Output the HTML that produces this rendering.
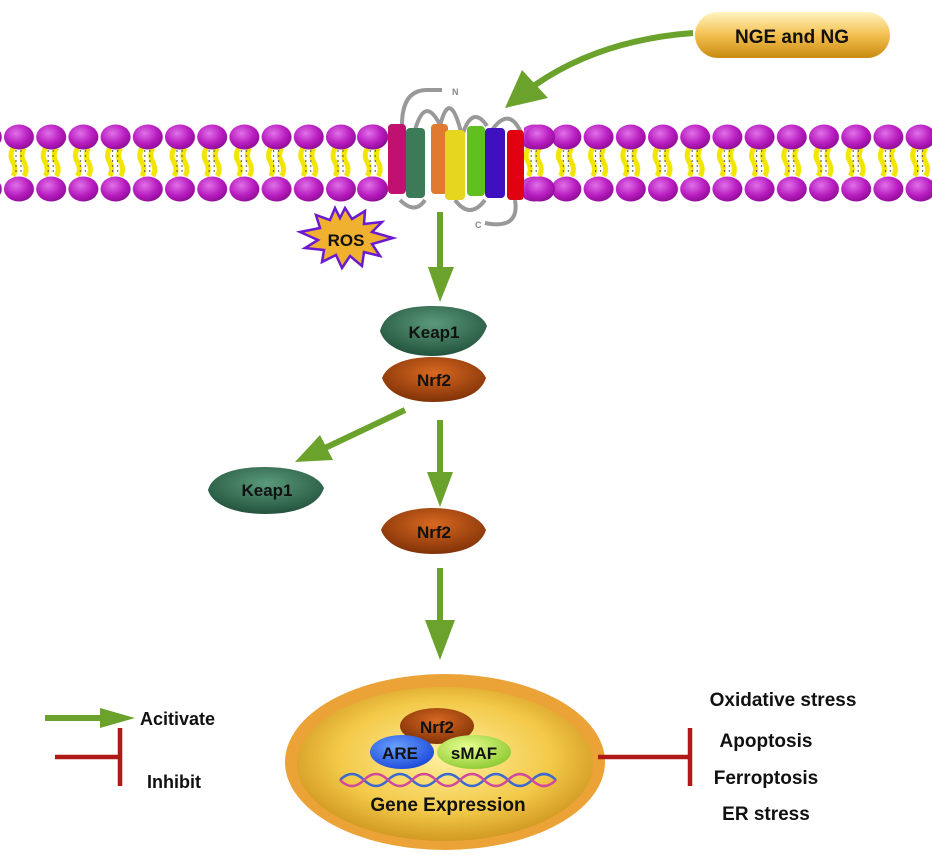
<!DOCTYPE html>
<html><head><meta charset="utf-8"><style>
html,body{margin:0;padding:0;background:#fff}
svg{display:block}
text{font-family:"Liberation Sans",Arial,sans-serif;font-weight:bold}
</style></head><body>
<svg width="932" height="855" viewBox="0 0 932 855" xmlns="http://www.w3.org/2000/svg">
<defs>
<radialGradient id="head" cx="0.4" cy="0.35" r="0.7"><stop offset="0" stop-color="#e070e8"/><stop offset="0.6" stop-color="#b81cc0"/><stop offset="1" stop-color="#8a0c90"/></radialGradient>
<pattern id="mem" x="3" y="0" width="32.2" height="855" patternUnits="userSpaceOnUse">
<path d="M10 148 q-4 8 0 14 q4 8 0 14" stroke="#f2e600" stroke-width="5" fill="none"/>
<path d="M21 148 q-4 8 0 14 q4 8 0 14" stroke="#f2e600" stroke-width="5" fill="none"/>
<path d="M13 150 l0 24 M18 150 l0 24" stroke="#555" stroke-width="1" stroke-dasharray="2 3"/>
<ellipse cx="16" cy="137" rx="15" ry="12.5" fill="url(#head)"/>
<ellipse cx="16" cy="189" rx="15" ry="12.5" fill="url(#head)"/>
</pattern>
<linearGradient id="pill" x1="0" y1="0" x2="0" y2="1"><stop offset="0" stop-color="#fff4c0"/><stop offset="0.5" stop-color="#f4c050"/><stop offset="1" stop-color="#c88a10"/></linearGradient>
<radialGradient id="keap" cx="0.5" cy="0.35" r="0.7"><stop offset="0" stop-color="#5a9a7a"/><stop offset="1" stop-color="#1f4d38"/></radialGradient>
<radialGradient id="nrf" cx="0.5" cy="0.35" r="0.7"><stop offset="0" stop-color="#d86820"/><stop offset="1" stop-color="#7a2e06"/></radialGradient>
<radialGradient id="nuc" cx="0.5" cy="0.45" r="0.6"><stop offset="0" stop-color="#fff0a0"/><stop offset="0.6" stop-color="#f3c948"/><stop offset="1" stop-color="#c98d18"/></radialGradient>
<radialGradient id="are" cx="0.4" cy="0.35" r="0.7"><stop offset="0" stop-color="#6aa0ff"/><stop offset="1" stop-color="#1a48d8"/></radialGradient>
<radialGradient id="smaf" cx="0.4" cy="0.35" r="0.7"><stop offset="0" stop-color="#e8ff90"/><stop offset="1" stop-color="#8cc830"/></radialGradient>
<marker id="ga" markerWidth="10" markerHeight="10" refX="6" refY="5" orient="auto" markerUnits="userSpaceOnUse" viewBox="0 0 10 10"/>
</defs>
<!-- membrane -->
<rect x="0" y="120" width="932" height="90" fill="url(#mem)"/>
<rect x="388" y="118" width="136" height="95" fill="#fff"/>
<ellipse cx="372" cy="137" rx="15" ry="12.5" fill="url(#head)"/>
<ellipse cx="372" cy="189" rx="15" ry="12.5" fill="url(#head)"/>
<ellipse cx="540" cy="137" rx="15" ry="12.5" fill="url(#head)"/>
<ellipse cx="540" cy="189" rx="15" ry="12.5" fill="url(#head)"/>
<!-- receptor loops -->
<g stroke="#999" stroke-width="4" fill="none">
<path d="M402 125 q0-35 25-35 l15 0"/>
<path d="M415 130 q10-35 25-5 M440 126 q10-40 22 10 q10-32 25-10 M492 130 q18-25 30 5"/>
<path d="M400 200 q15 15 25 0 M455 200 q15 20 30 0 M515 200 q5 30-30 23"/>
</g>
<text x="452" y="95" font-size="9" fill="#888" font-weight="normal">N</text>
<text x="475" y="228" font-size="9" fill="#888" font-weight="normal">C</text>
<g>
<rect x="388" y="124" width="18" height="70" rx="4" fill="#c01070"/>
<rect x="406" y="128" width="19" height="70" rx="4" fill="#3c7a58"/>
<rect x="431" y="124" width="17" height="70" rx="4" fill="#e07a30"/>
<rect x="445" y="130" width="20" height="70" rx="4" fill="#e6d620"/>
<rect x="467" y="126" width="18" height="70" rx="4" fill="#60c020"/>
<rect x="485" y="128" width="20" height="70" rx="4" fill="#4010c0"/>
<rect x="507" y="130" width="17" height="70" rx="4" fill="#e00010"/>
</g>
<!-- NGE pill -->
<rect x="695" y="12" width="195" height="46" rx="23" fill="url(#pill)"/>
<text x="792" y="43" font-size="19" text-anchor="middle" fill="#111">NGE and NG</text>
<!-- arrows -->
<g stroke="#6aa22c" stroke-width="6" fill="none">
<path d="M693 33 Q600 40 535 85"/>
<line x1="440" y1="212" x2="440" y2="270"/>
<line x1="405" y1="410" x2="325" y2="448"/>
<line x1="440" y1="420" x2="440" y2="475"/>
<line x1="440" y1="568" x2="440" y2="625"/>
<line x1="45" y1="718" x2="105" y2="718"/>
</g>
<g fill="#6aa22c">
<polygon points="505,108 522,70 548,98"/>
<polygon points="428,267 454,267 440,302"/>
<polygon points="295,462 320,435 333,460"/>
<polygon points="427,472 453,472 440,507"/>
<polygon points="425,620 455,620 440,660"/>
<polygon points="100,708 135,718 100,728"/>
</g>
<!-- ROS -->
<polygon points="345,208 352,219 365,211 364,224 382,222 372,232 393,238 372,244 380,256 364,252 362,266 350,256 342,268 336,255 322,262 324,250 305,248 318,240 300,232 320,228 316,215 330,220 335,208 340,218" fill="#f0b030" stroke="#6a1ad0" stroke-width="2.5"/>
<text x="346" y="246" font-size="17" text-anchor="middle" fill="#111">ROS</text>
<!-- proteins -->
<path d="M380 331 C385 310 410 306 432 306 C458 306 482 312 487 326 C480 348 455 356 432 356 C408 356 385 348 380 331Z" fill="url(#keap)"/>
<text x="434" y="338" font-size="17" text-anchor="middle" fill="#111">Keap1</text>
<path d="M382 378 C388 362 412 357 433 357 C458 357 480 364 486 378 C480 396 458 402 433 402 C410 402 388 395 382 378Z" fill="url(#nrf)"/>
<text x="434" y="386" font-size="17" text-anchor="middle" fill="#111">Nrf2</text>
<path d="M208 490 C213 472 240 467 265 467 C292 467 318 474 324 488 C318 507 292 514 265 514 C240 514 213 507 208 490Z" fill="url(#keap)"/>
<text x="267" y="496" font-size="17" text-anchor="middle" fill="#111">Keap1</text>
<path d="M381 530 C387 514 411 508 433 508 C458 508 480 516 486 530 C480 548 458 554 433 554 C410 554 387 547 381 530Z" fill="url(#nrf)"/>
<text x="434" y="538" font-size="17" text-anchor="middle" fill="#111">Nrf2</text>
<!-- nucleus -->
<ellipse cx="445" cy="762" rx="160" ry="88" fill="#eba236"/>
<ellipse cx="445" cy="764" rx="148" ry="77" fill="url(#nuc)"/>
<ellipse cx="437" cy="726" rx="37" ry="18" fill="url(#nrf)"/>
<text x="437" y="733" font-size="17" text-anchor="middle" fill="#111" font-weight="normal">Nrf2</text>
<ellipse cx="474" cy="752" rx="37" ry="17" fill="url(#smaf)"/>
<ellipse cx="402" cy="752" rx="32" ry="17" fill="url(#are)"/>
<text x="400" y="759" font-size="17" text-anchor="middle" fill="#111" font-weight="normal">ARE</text>
<text x="474" y="759" font-size="17" text-anchor="middle" fill="#111" font-weight="normal">sMAF</text>
<g fill="none" stroke-width="2.5">
<path d="M340 780 q12-12 24 0 t24 0 t24 0 t24 0 t24 0 t24 0 t24 0 t24 0 t24 0" stroke="#3a6ad0"/>
<path d="M340 780 q12 12 24 0 t24 0 t24 0 t24 0 t24 0 t24 0 t24 0 t24 0 t24 0" stroke="#d04a9a"/>
</g>
<text x="448" y="811" font-size="19" text-anchor="middle" fill="#111">Gene Expression</text>
<!-- inhibit -->
<g stroke="#b01818" stroke-width="4.5">
<line x1="55" y1="757" x2="120" y2="757"/><line x1="120" y1="728" x2="120" y2="786"/>
<line x1="598" y1="757" x2="690" y2="757"/><line x1="690" y1="728" x2="690" y2="786"/>
</g>
<text x="140" y="725" font-size="18" fill="#111">Acitivate</text>
<text x="147" y="788" font-size="18" fill="#111">Inhibit</text>
<text x="783" y="706" font-size="19" text-anchor="middle" fill="#111">Oxidative stress</text>
<text x="766" y="747" font-size="19" text-anchor="middle" fill="#111">Apoptosis</text>
<text x="766" y="784" font-size="19" text-anchor="middle" fill="#111">Ferroptosis</text>
<text x="766" y="820" font-size="19" text-anchor="middle" fill="#111">ER stress</text>
</svg>
</body></html>
